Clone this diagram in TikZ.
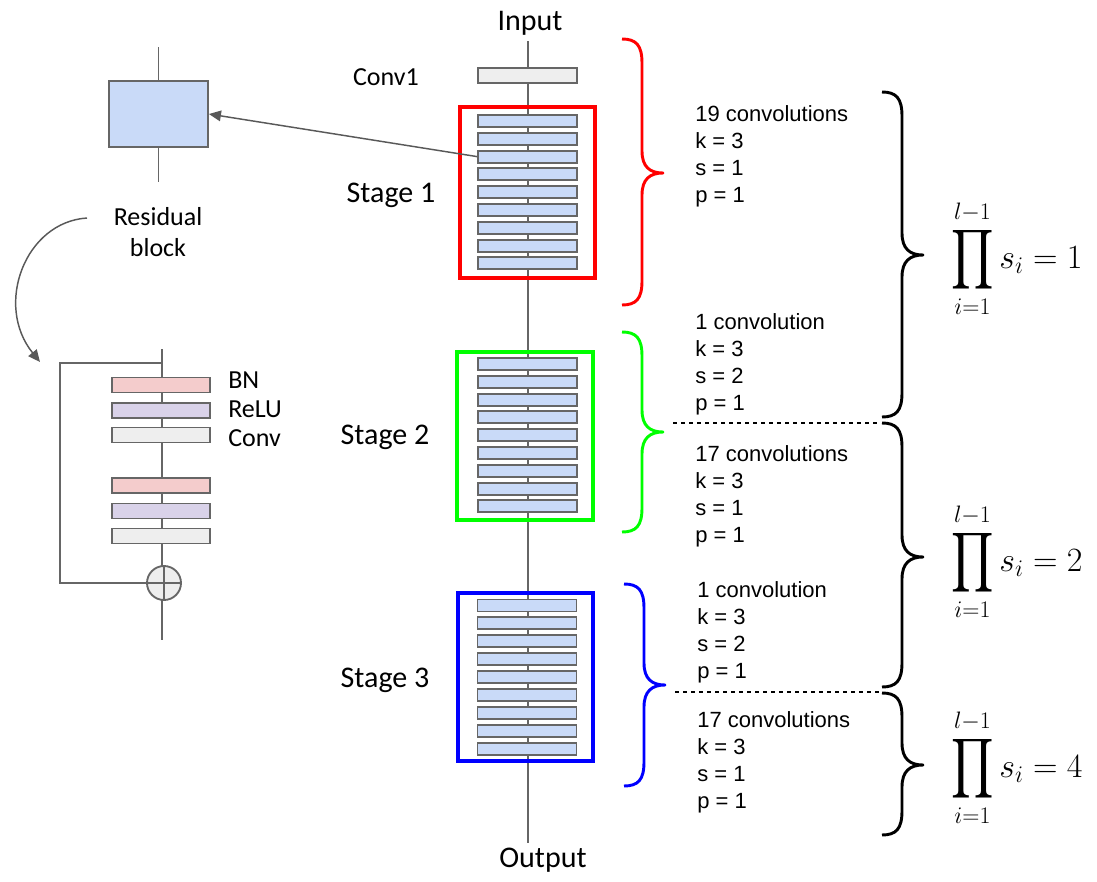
\documentclass[tikz,border=0pt]{standalone}
\usepackage{fix-cm}
\usepackage{amsmath}
\usepackage[no-math]{fontspec}
\setmainfont{Carlito}
\newfontfamily\arialf{Liberation Sans}
\usepackage{graphicx}
\usetikzlibrary{arrows.meta}
\definecolor{gline}{HTML}{666666}
\definecolor{aline}{HTML}{595959}
\definecolor{bfill}{HTML}{C9DAF8}
\definecolor{cfill}{HTML}{EEEEEE}
\definecolor{bnfill}{HTML}{F4CCCC}
\definecolor{rlfill}{HTML}{D9D2E9}
\definecolor{gbright}{HTML}{00FF00}
\definecolor{rbright}{HTML}{FF0000}
\definecolor{bbright}{HTML}{0000FF}
% colour, x0, ytop, ybot, ymid
\newcommand\curlybrace[5]{%
 \draw[#1, line width=2.2pt, line join=round]
 (#2,#3) .. controls (#2+14,#3) and (#2+20,#3+6) .. (#2+20,#3+24)
 -- (#2+20,#5-22) .. controls (#2+20,#5-6) and (#2+28,#5) .. (#2+41,#5)
 .. controls (#2+28,#5) and (#2+20,#5+6) .. (#2+20,#5+22)
 -- (#2+20,#4-24) .. controls (#2+20,#4-6) and (#2+14,#4) .. (#2,#4);}
\newcommand\bigprodsym{\mathop{\vcenter{\hbox{\scalebox{1.0}[1.26]{$\displaystyle\prod$}}}}}
\tikzset{
 gl/.style={draw=gline, line width=1.4pt},
 sbox/.style={rectangle, draw=gline, fill=bfill, line width=1.4pt, minimum width=74.25pt, minimum height=9pt, inner sep=0pt},
 bar/.style={rectangle, draw=gline, line width=1.4pt, minimum width=73.5pt, minimum height=11.25pt, inner sep=0pt},
 frame/.style={rectangle, line width=2.4pt, inner sep=0pt, minimum width=101.25pt},
 lbl/.style={font=\fontsize{19.5}{23.25}\selectfont, inner sep=0pt},
 biglbl/.style={font=\fontsize{22.5}{27}\selectfont, inner sep=0pt},
 info/.style={font=\arialf\fontsize{16.5}{20.25}\selectfont, align=left, anchor=west, inner sep=0pt},
 mathlbl/.style={font=\fontsize{25.5}{30}\selectfont, inner sep=0pt},
 arr/.style={draw=aline, line width=1.1pt, -{Triangle[length=9pt,width=8pt]}},
 dashln/.style={draw=black, dashed, line width=1.1pt}
}
\begin{document}
\begin{tikzpicture}[x=0.75pt,y=-0.75pt]
\path[use as bounding box] (0,0) rectangle (1097,882);

% ---------- main column ----------
\node[biglbl] (input) at (530,23) {Input};
\node[biglbl] (output) at (543,860) {Output};
\coordinate (mtop) at (528,41);
\coordinate (mbot) at (528,843);
\draw[gl] (mtop) -- (mbot);

\node[bar, fill=cfill, minimum width=74.25pt] (conv1) at (527.5,75.5) {};
\node[lbl] (conv1l) at (386,77) {Conv1};

\node[frame, draw=rbright, minimum height=128.25pt] (st1) at (527.5,192.5) {};
\node[frame, draw=gbright, minimum width=102pt, minimum height=126pt] (st2) at (525,436) {};
\node[frame, draw=bbright, minimum height=126pt] (st3) at (525.5,677) {};

\foreach \i in {0,...,8} {
 \node[sbox] (s1b\i) at (527.5,121+17.8*\i) {};
 \node[sbox] (s2b\i) at (527.5,364+17.8*\i) {};
 \node[sbox] (s3b\i) at (527,605.5+17.9*\i) {};
}
\node[biglbl] (st1l) at (391,195) {Stage 1};
\node[biglbl] (st2l) at (385,437) {Stage 2};
\node[biglbl] (st3l) at (385,680) {Stage 3};

% ---------- coloured braces ----------
\curlybrace{rbright}{622}{39}{305}{173}
\curlybrace{gbright}{622}{332}{532}{432}
\curlybrace{bbright}{624}{584}{786}{685}

% ---------- info texts ----------
\node[info] (t1) at (695,156) {19 convolutions\\k = 3\\s = 1\\p = 1};
\node[info] (t2) at (695,364) {1 convolution\\k = 3\\s = 2\\p = 1};
\node[info] (t3) at (695,496) {17 convolutions\\k = 3\\s = 1\\p = 1};
\node[info] (t4) at (697,632) {1 convolution\\k = 3\\s = 2\\p = 1};
\node[info] (t5) at (697,762.5) {17 convolutions\\k = 3\\s = 1\\p = 1};

\coordinate (d1a) at (673,423);
\coordinate (d1b) at (880,423);
\coordinate (d2a) at (675,692);
\coordinate (d2b) at (880,692);
\draw[dashln] (d1a) -- (d1b);
\draw[dashln] (d2a) -- (d2b);

% ---------- black braces ----------
\curlybrace{black}{882}{92}{417}{255}
\curlybrace{black}{882}{423}{687}{557}
\curlybrace{black}{882}{693}{835}{765}

\node[mathlbl, anchor=west] (f1) at (951,259) {$\displaystyle\bigprodsym_{i=1}^{l-1} s_i = 1$};
\node[mathlbl, anchor=west] (f2) at (951,562) {$\displaystyle\bigprodsym_{i=1}^{l-1} s_i = 2$};
\node[mathlbl, anchor=west] (f3) at (951,768) {$\displaystyle\bigprodsym_{i=1}^{l-1} s_i = 4$};

% ---------- residual block (collapsed) ----------
\node[rectangle, draw=gline, fill=bfill, line width=1.4pt, minimum width=74.25pt, minimum height=49.5pt, inner sep=0pt] (res) at (158.5,114) {};
\draw[gl] (res.north) -- ++(0,-33);
\draw[gl] (res.south) -- ++(0,34);
\draw[arr] (s1b2.west) -- (res.east);
\node[lbl, align=center] (resl) at (158,232) {Residual\\block};

\coordinate (ca) at (87,218);
\coordinate (cb) at (40,362);
\draw[arr] (ca) .. controls (25,222) and (-6,305) .. (cb);

% ---------- residual block (expanded) ----------
\coordinate (rtop) at (162,349);
\coordinate (rbot) at (162,640);
\coordinate (sk) at (162,363);
\coordinate (skl) at (60,363);
\draw[gl] (rtop) -- (rbot);
\node[circle, draw=gline, fill=cfill, line width=1.4pt, minimum size=25.5pt, inner sep=0pt] (plus) at (164,583) {};
\draw[gl] (plus.north) -- (plus.south);
\draw[gl] (plus.west) -- (plus.east);
\draw[gl] (sk) -- (skl) |- (plus.west);

\node[bar, fill=bnfill] (bn1) at (161,385) {};
\node[bar, fill=rlfill] (rl1) at (161,410.5) {};
\node[bar, fill=cfill] (cv1) at (161,435) {};
\node[bar, fill=bnfill] (bn2) at (161,485.5) {};
\node[bar, fill=rlfill] (rl2) at (161,511) {};
\node[bar, fill=cfill] (cv2) at (161,536) {};

\node[lbl, anchor=west] (bnl) at (228,380) {BN};
\node[lbl, anchor=west] (rll) at (228,409) {ReLU};
\node[lbl, anchor=west] (cvl) at (228,438) {Conv};
\end{tikzpicture}
\end{document}
